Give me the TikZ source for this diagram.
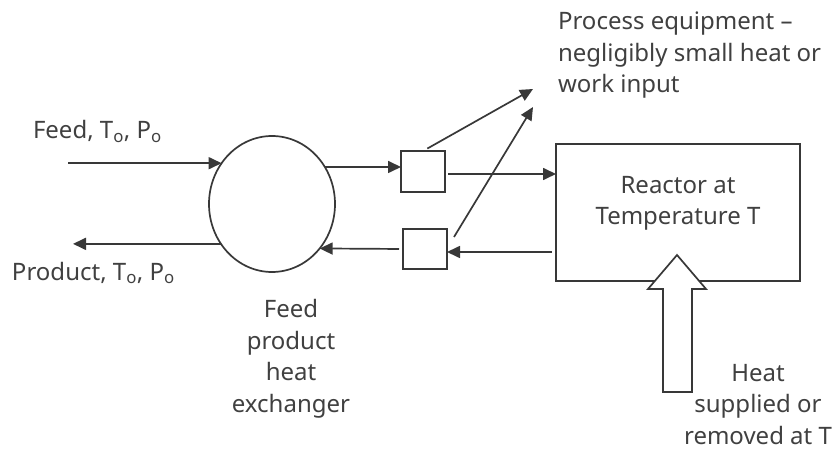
\documentclass[tikz,border=0pt]{standalone}
\usepackage{fontspec}
\setmainfont{Noto Sans}
\usetikzlibrary{shapes.geometric,arrows.meta,calc}
\definecolor{ln}{HTML}{383838}
\definecolor{tx}{HTML}{404040}
\begin{document}
\begin{tikzpicture}[x=1pt,y=-1pt,
  every node/.style={inner sep=0pt, outer sep=0pt},
  lbl/.style={text=tx, font=\fontsize{24}{31.5}\selectfont},
  unit/.style={draw=ln, line width=1.7pt, fill=white, minimum width=44pt, minimum height=41pt},
  arr/.style={draw=ln, line width=1.7pt, -{Triangle[length=13pt,width=12pt]}},
  bigarrow/.style={draw=ln, line width=1.7pt, fill=white, line join=miter},
]
\useasboundingbox (0,0) rectangle (838,449);
\node[ellipse, draw=ln, line width=1.7pt, minimum width=126pt, minimum height=136pt] (hx) at (272,204) {};
\node[unit] (bu) at (423,171.5) {};
\node[unit, minimum height=40pt] (bl) at (425,249) {};
\node[draw=ln, line width=1.7pt, minimum width=244pt, minimum height=137pt] (re) at (678,212.5) {};
\coordinate (feedin) at (68,0);
\coordinate (prodout) at (73,0);
\coordinate (t1) at (533,89);
\coordinate (t2) at (533,107);
\draw[arr] (feedin |- hx.141.9) -- (hx.141.9);
\draw[arr] (hx.218.1) -- (prodout |- hx.218.1);
\draw[arr] (hx.35) -- (hx.35 -| bu.west);
\draw[arr, shorten <=3pt] ($(bu.east)+(0,2.5)$) -- ($(bu.east -| re.west)+(0,2.5)$);
\draw[arr, shorten <=4pt] ($(re.west |- bl.east)+(0,3)$) -- ($(bl.east)+(0,3)$);
\draw[arr, shorten <=4pt] (bl.west) -- (hx.-43.6);
\draw[arr, shorten <=5pt] (bu.north) -- (t1);
\draw[arr] ($(bl.east)+(7,-12)$) -- (t2);
\draw[bigarrow] (677,255) -- (706,289) -- (692,289) -- (692,392) -- (663,392) -- (663,289) -- (648,289) -- cycle;
\node[lbl, anchor=base west] (feedt) at (33,139) {Feed, T\textsubscript{o}, P\textsubscript{o}};
\node[lbl, anchor=base west] (prodt) at (12,280) {Product, T\textsubscript{o}, P\textsubscript{o}};
\node[lbl, align=left, anchor=base west] (proct) at (558,93) {Process equipment –\\negligibly small heat or\\work input};
\node[lbl, align=center, anchor=base] (reat) at (678,225) {Reactor at\\Temperature T};
\node[lbl, align=center, anchor=base] (heatt) at (758,444) {Heat\\supplied or\\removed at T};
\node[lbl, align=center, anchor=base] (hxt) at (291,412) {Feed\\product\\heat\\exchanger};
\end{tikzpicture}
\end{document}
